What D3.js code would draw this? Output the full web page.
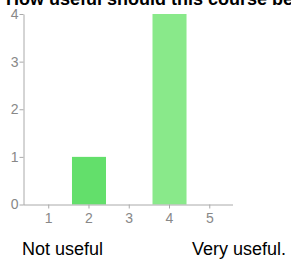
<!DOCTYPE html>
<html><head><meta charset="utf-8">
<script src="https://cdn.jsdelivr.net/npm/d3@7"></script>
<style>body{margin:0;background:#fff;overflow:hidden}</style>
</head><body>
<svg id="c" width="291" height="260"></svg>
<script>
const title = "How useful should this course be?";
const categories = ["1","2","3","4","5"];
const counts = [0,1,0,4,0];
const barColors = ["#63df6b","#63df6b","#63df6b","#89e98a","#89e98a"];
const yTicks = [0,1,2,3,4];
const lowLabel = "Not useful";
const highLabel = "Very useful.";

const svg = d3.select("#c");
const font = "'Liberation Sans', Arial, sans-serif";
const x = d3.scaleBand().domain(categories).range([28.5, 230]).paddingInner(0.155).paddingOuter(0.08);
const y = d3.scaleLinear().domain([0,4]).range([204.5, 14]);

svg.append("text").attr("x",6).attr("y",5).attr("font-family",font).attr("font-weight","bold")
  .attr("font-size",18).attr("fill","#000").text(title);

svg.selectAll("rect.bar").data(counts).join("rect").attr("class","bar")
  .attr("x",(d,i)=>x(categories[i])).attr("width",x.bandwidth())
  .attr("y",d=>y(d)).attr("height",d=>y(0)-y(d))
  .attr("fill",(d,i)=>barColors[i]);

const yAxis = svg.append("g").attr("transform","translate(23.5,0)")
  .call(d3.axisLeft(y).tickValues(yTicks).tickFormat(d3.format("d")).tickSize(4).tickSizeOuter(0));
const xAxis = svg.append("g").attr("transform",`translate(0,${y(0)})`)
  .call(d3.axisBottom(x).tickSize(4).tickSizeOuter(0));
xAxis.select(".domain").attr("d","M23.5,0.5H233");
[yAxis,xAxis].forEach(g=>{
  g.select(".domain").attr("stroke","#aaa");
  g.selectAll(".tick line").attr("stroke","#aaa");
  g.selectAll(".tick text").attr("fill","#888").attr("font-family",font).attr("font-size",14);
});
yAxis.selectAll(".tick text").attr("x",-5);
xAxis.selectAll(".tick text").attr("y",9);

svg.append("text").attr("x",22).attr("y",255).attr("font-family",font).attr("font-size",18).attr("fill","#000").text(lowLabel);
svg.append("text").attr("x",192).attr("y",255).attr("font-family",font).attr("font-size",18).attr("fill","#000").text(highLabel);
</script>
</body></html>
